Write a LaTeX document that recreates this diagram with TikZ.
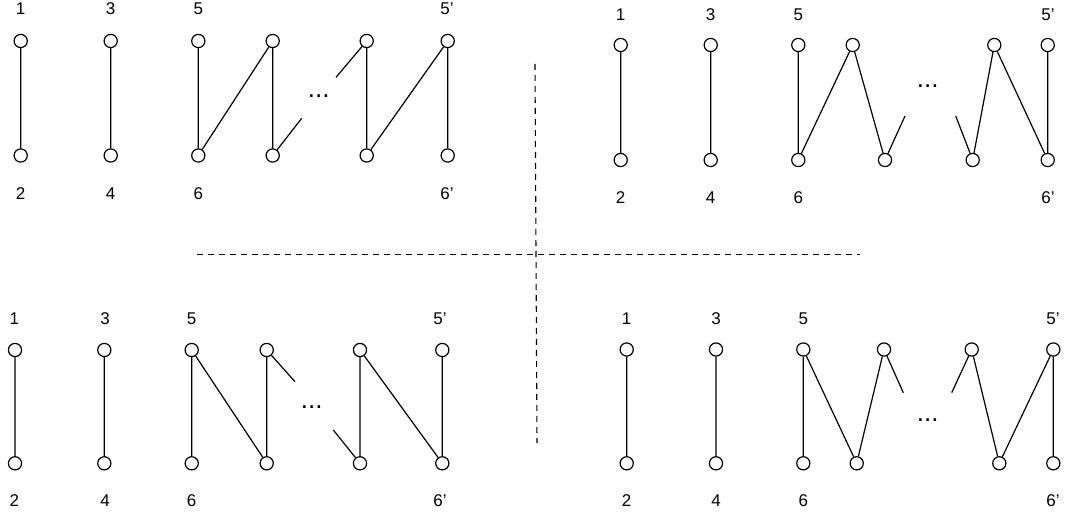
\documentclass[tikz,border=0pt]{standalone}
\usepackage{fontspec}
\setmainfont{Liberation Sans}
\begin{document}
\begin{tikzpicture}[x=1pt,y=-1pt,
  vtx/.style={circle,draw,line width=1.2pt,minimum size=13.2pt,inner sep=0pt,fill=white},
  lbl/.style={inner sep=0pt,font=\fontsize{17}{19}\selectfont},
  edge/.style={line width=1.2pt},
  sep/.style={line width=1.1pt,dash pattern=on 6pt off 5pt},
  dotsl/.style={inner sep=0pt,font=\fontsize{26}{28}\selectfont}]
\useasboundingbox (0,0) rectangle (1067,521);
% ---------- top left ----------
\node[vtx] (tla1) at (20.7,41) {};   \node[vtx] (tlb1) at (20.7,155.5) {};
\node[vtx] (tla2) at (110.7,41) {};  \node[vtx] (tlb2) at (110.7,155.5) {};
\node[vtx] (tla3) at (198.3,41) {};  \node[vtx] (tlb3) at (198.3,155.5) {};
\node[vtx] (tla4) at (272.7,41) {};  \node[vtx] (tlb4) at (272.7,155.5) {};
\node[vtx] (tla5) at (366.7,41) {};  \node[vtx] (tlb5) at (366.7,155.5) {};
\node[vtx] (tla6) at (447.7,41) {};  \node[vtx] (tlb6) at (447.7,155.5) {};
\coordinate (tlp1) at (301.7,118.3);
\coordinate (tlp2) at (336,77.3);
\draw[edge] (tla1)--(tlb1) (tla2)--(tlb2) (tla3)--(tlb3) (tlb3)--(tla4) (tla4)--(tlb4)
  (tlb4)--(tlp1) (tlp2)--(tla5) (tla5)--(tlb5) (tlb5)--(tla6) (tla6)--(tlb6);
\node[dotsl] (tldots) at (318.7,95.7) {...};
\node[lbl] (tlt1) at (20.7,8.5) {1};
\node[lbl] (tlt3) at (110.7,8.5) {3};
\node[lbl] (tlt5) at (198.3,8.5) {5};
\node[lbl] (tlt5p) at (447,8.5) {5’};
\node[lbl] (tlt2) at (20.7,193.5) {2};
\node[lbl] (tlt4) at (110.7,193.5) {4};
\node[lbl] (tlt6) at (198.3,193.5) {6};
\node[lbl] (tlt6p) at (447,193.5) {6’};
% ---------- top right ----------
\node[vtx] (tra1) at (620.7,45) {};  \node[vtx] (trb1) at (620.7,160) {};
\node[vtx] (tra2) at (710.7,45) {};  \node[vtx] (trb2) at (710.7,160) {};
\node[vtx] (tra3) at (798.3,45) {};  \node[vtx] (trb3) at (798.3,160) {};
\node[vtx] (tra4) at (852.7,45) {};  \node[vtx] (trb4) at (885,160) {};
\node[vtx] (tra5) at (994.3,45) {};  \node[vtx] (trb5) at (972.7,160) {};
\node[vtx] (tra6) at (1047.7,45) {}; \node[vtx] (trb6) at (1047.7,160) {};
\coordinate (trp1) at (905,116);
\coordinate (trp2) at (955.7,116);
\draw[edge] (tra1)--(trb1) (tra2)--(trb2) (tra3)--(trb3) (trb3)--(tra4) (tra4)--(trb4)
  (trb4)--(trp1) (trp2)--(trb5) (trb5)--(tra5) (tra5)--(trb6) (tra6)--(trb6);
\node[dotsl] (trdots) at (927.7,86) {...};
\node[lbl] (trt1) at (620.7,15) {1};
\node[lbl] (trt3) at (710.7,15) {3};
\node[lbl] (trt5) at (798.3,15) {5};
\node[lbl] (trt5p) at (1048,15) {5’};
\node[lbl] (trt2) at (620.7,197.5) {2};
\node[lbl] (trt4) at (710.7,197.5) {4};
\node[lbl] (trt6) at (798.3,197.5) {6};
\node[lbl] (trt6p) at (1048,197.5) {6’};
% ---------- bottom left ----------
\node[vtx] (bla1) at (15,350) {};    \node[vtx] (blb1) at (15,463.3) {};
\node[vtx] (bla2) at (104.3,350) {}; \node[vtx] (blb2) at (104.3,463.3) {};
\node[vtx] (bla3) at (191.7,350) {}; \node[vtx] (blb3) at (191.7,463.3) {};
\node[vtx] (bla4) at (266.7,350) {}; \node[vtx] (blb4) at (266.7,463.3) {};
\node[vtx] (bla5) at (360,350) {};   \node[vtx] (blb5) at (360,463.3) {};
\node[vtx] (bla6) at (442.3,350) {}; \node[vtx] (blb6) at (442.3,463.3) {};
\coordinate (blp1) at (295,381.7);
\coordinate (blp2) at (333.3,430);
\draw[edge] (bla1)--(blb1) (bla2)--(blb2) (bla3)--(blb3) (bla3)--(blb4) (bla4)--(blb4)
  (bla4)--(blp1) (blp2)--(blb5) (bla5)--(blb5) (bla5)--(blb6) (bla6)--(blb6);
\node[dotsl] (bldots) at (311.7,406.7) {...};
\node[lbl] (blt1) at (14.3,318.5) {1};
\node[lbl] (blt3) at (105,318.5) {3};
\node[lbl] (blt5) at (191.7,318.5) {5};
\node[lbl] (blt5p) at (440,318.5) {5’};
\node[lbl] (blt2) at (14.3,501) {2};
\node[lbl] (blt4) at (105,501) {4};
\node[lbl] (blt6) at (191.7,501) {6};
\node[lbl] (blt6p) at (440,501) {6’};
% ---------- bottom right ----------
\node[vtx] (bra1) at (626.7,349.5) {};  \node[vtx] (brb1) at (626.7,463.3) {};
\node[vtx] (bra2) at (716,349.5) {};    \node[vtx] (brb2) at (716,463.3) {};
\node[vtx] (bra3) at (803.3,349.5) {};  \node[vtx] (brb3) at (803.3,463.3) {};
\node[vtx] (bra4) at (884,349.5) {};    \node[vtx] (brb4) at (856.7,463.3) {};
\node[vtx] (bra5) at (971.7,349.5) {};  \node[vtx] (brb5) at (999.3,463.3) {};
\node[vtx] (bra6) at (1053.3,349.5) {}; \node[vtx] (brb6) at (1053.3,463.3) {};
\coordinate (brp1) at (903.3,392.7);
\coordinate (brp2) at (951.7,392.7);
\draw[edge] (bra1)--(brb1) (bra2)--(brb2) (bra3)--(brb3) (bra3)--(brb4) (brb4)--(bra4)
  (bra4)--(brp1) (brp2)--(bra5) (bra5)--(brb5) (brb5)--(bra6) (bra6)--(brb6);
\node[dotsl] (brdots) at (927.7,420) {...};
\node[lbl] (brt1) at (626.7,318.5) {1};
\node[lbl] (brt3) at (716,318.5) {3};
\node[lbl] (brt5) at (803.3,318.5) {5};
\node[lbl] (brt5p) at (1053,318.5) {5’};
\node[lbl] (brt2) at (626.7,501) {2};
\node[lbl] (brt4) at (716,501) {4};
\node[lbl] (brt6) at (803.3,501) {6};
\node[lbl] (brt6p) at (1053,501) {6’};
% ---------- separators ----------
\coordinate (vs1) at (535,64);
\coordinate (vs2) at (537,443);
\coordinate (hs1) at (197,254.3);
\coordinate (hs2) at (860,254.3);
\draw[sep] (vs1)--(vs2);
\draw[sep] (hs1)--(hs2);
\end{tikzpicture}
\end{document}
